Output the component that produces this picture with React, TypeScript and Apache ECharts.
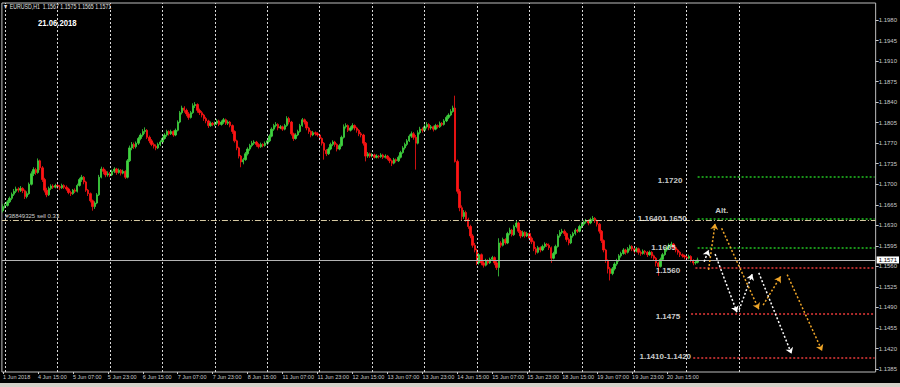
import React, { useEffect, useRef } from "react";
import * as echarts from "echarts";

// Prices are stored in pips above 1.1000; each bar = [open, close, low, high]
const BASE = 1.1;
const PIP = 0.0001;

const jun01 = [[655, 662, 652, 666]];
const jun04 = [
  [662, 664, 659, 668], [664, 670, 662, 673], [670, 676, 668, 679], [676, 683, 673, 686],
  [683, 688, 680, 692], [688, 692, 685, 696], [692, 690, 686, 695], [690, 693, 687, 697],
  [693, 689, 685, 695], [689, 679, 675, 691], [679, 684, 676, 688], [684, 700, 682, 703],
  [700, 718, 698, 722], [718, 725, 714, 729], [725, 720, 716, 728], [720, 740, 718, 744],
  [740, 728, 724, 742], [728, 708, 704, 731], [708, 690, 686, 711], [690, 682, 678, 694],
  [682, 693, 680, 696], [693, 697, 690, 700], [697, 695, 692, 700], [695, 698, 693, 701],
];
const jun05 = [
  [698, 696, 692, 701], [696, 694, 690, 699], [694, 698, 692, 701], [698, 695, 692, 700],
  [695, 692, 689, 698], [692, 686, 683, 694], [686, 684, 680, 689], [684, 690, 682, 692],
  [690, 688, 685, 693], [688, 698, 686, 701], [698, 708, 696, 711], [708, 712, 704, 716],
  [712, 704, 700, 714], [704, 690, 687, 706], [690, 684, 680, 692], [684, 672, 669, 686],
  [672, 662, 655, 674], [662, 668, 658, 671], [668, 682, 666, 685], [682, 712, 680, 716],
  [712, 726, 710, 730], [726, 722, 717, 729], [722, 716, 712, 725], [716, 718, 713, 722],
];
const jun06 = [
  [718, 716, 712, 721], [716, 722, 714, 725], [722, 726, 719, 729], [726, 720, 716, 728],
  [720, 724, 718, 727], [724, 719, 715, 726], [719, 722, 717, 725], [722, 712, 709, 724],
  [712, 740, 710, 743], [740, 762, 738, 766], [762, 768, 758, 772], [768, 764, 760, 771],
  [764, 770, 761, 773], [770, 778, 767, 781], [778, 784, 775, 787], [784, 790, 781, 794],
  [790, 792, 786, 797], [792, 780, 777, 794], [780, 774, 770, 783], [774, 768, 765, 777],
  [768, 765, 761, 771], [765, 762, 758, 768], [762, 768, 760, 771], [768, 772, 765, 775],
];
const jun07 = [
  [772, 778, 770, 781], [778, 784, 776, 787], [784, 790, 781, 793], [790, 786, 783, 792],
  [786, 790, 784, 793], [790, 784, 781, 792], [784, 792, 782, 795], [792, 806, 790, 809],
  [806, 822, 804, 825], [822, 830, 819, 834], [830, 826, 822, 833], [826, 820, 816, 829],
  [820, 814, 810, 823], [814, 822, 812, 825], [822, 834, 820, 838], [834, 836, 830, 840],
  [836, 826, 822, 838], [826, 822, 818, 829], [822, 818, 814, 825], [818, 812, 808, 820],
  [812, 808, 804, 815], [808, 800, 796, 810], [800, 804, 798, 807], [804, 802, 799, 806],
];
const jun08 = [
  [802, 804, 799, 807], [804, 808, 801, 811], [808, 802, 799, 810], [802, 806, 800, 809],
  [806, 810, 803, 813], [810, 804, 801, 812], [804, 806, 801, 809], [806, 800, 797, 808],
  [800, 790, 786, 802], [790, 774, 771, 792], [774, 762, 758, 776], [762, 748, 744, 764],
  [748, 738, 729, 750], [738, 742, 734, 745], [742, 752, 740, 755], [752, 760, 749, 763],
  [760, 766, 757, 769], [766, 770, 763, 774], [770, 772, 767, 775], [772, 768, 764, 774],
  [768, 764, 761, 770], [764, 768, 762, 771], [768, 766, 763, 770], [766, 770, 764, 773],
];
const jun11 = [
  [770, 774, 767, 777], [774, 782, 772, 785], [782, 794, 780, 797], [794, 800, 791, 803],
  [800, 802, 797, 806], [802, 796, 792, 804], [796, 798, 794, 801], [798, 794, 791, 800],
  [794, 800, 792, 803], [800, 812, 798, 816], [812, 806, 802, 815], [806, 786, 783, 808],
  [786, 778, 774, 788], [778, 784, 776, 787], [784, 790, 782, 793], [790, 800, 788, 803],
  [800, 810, 798, 813], [810, 806, 802, 812], [806, 796, 792, 808], [796, 790, 786, 798],
  [790, 784, 780, 792], [784, 788, 782, 791], [788, 786, 783, 790], [786, 784, 781, 789],
];
const jun12 = [
  [784, 778, 775, 786], [778, 770, 766, 780], [770, 758, 742, 772], [758, 752, 748, 760],
  [752, 760, 750, 763], [760, 768, 758, 771], [768, 772, 765, 775], [772, 768, 764, 774],
  [768, 760, 756, 770], [760, 766, 758, 769], [766, 780, 764, 783], [780, 798, 778, 802],
  [798, 800, 795, 804], [800, 792, 789, 802], [792, 796, 790, 799], [796, 800, 793, 804],
  [800, 796, 792, 802], [796, 792, 788, 798], [792, 786, 782, 794], [786, 784, 780, 789],
  [784, 770, 766, 786], [770, 748, 739, 772], [748, 752, 745, 755], [752, 748, 745, 754],
];
const jun13 = [
  [748, 750, 746, 753], [750, 746, 744, 752], [746, 748, 744, 751], [748, 747, 744, 750],
  [747, 750, 745, 753], [750, 746, 743, 752], [746, 748, 744, 751], [748, 744, 741, 750],
  [744, 740, 736, 746], [740, 736, 731, 742], [736, 742, 734, 745], [742, 740, 737, 744],
  [740, 746, 738, 749], [746, 754, 744, 757], [754, 762, 752, 765], [762, 768, 759, 771],
  [768, 774, 765, 777], [774, 782, 772, 785], [782, 786, 779, 790], [786, 780, 776, 789],
  [780, 770, 725, 784], [770, 788, 768, 792], [788, 794, 785, 798], [794, 792, 788, 797],
];
const jun14 = [
  [792, 798, 790, 802], [798, 802, 795, 806], [802, 796, 792, 804], [796, 798, 793, 801],
  [798, 794, 790, 800], [794, 800, 792, 803], [800, 798, 795, 802], [798, 804, 796, 807],
  [804, 802, 799, 806], [802, 808, 800, 811], [808, 814, 806, 817], [814, 818, 811, 821],
  [818, 824, 816, 828], [824, 830, 822, 834], [830, 739, 737, 851], [739, 688, 684, 742],
  [688, 660, 654, 692], [660, 645, 638, 664], [645, 652, 641, 656], [652, 640, 636, 655],
  [640, 628, 624, 643], [628, 612, 608, 631], [612, 596, 592, 615], [596, 588, 584, 600],
];
const jun15 = [
  [588, 566, 562, 590], [566, 580, 563, 583], [580, 566, 562, 582], [566, 562, 558, 569],
  [562, 570, 560, 573], [570, 566, 563, 572], [566, 572, 564, 575], [572, 575, 569, 578],
  [575, 566, 562, 577], [566, 558, 554, 569], [558, 600, 543, 608], [600, 596, 592, 603],
  [596, 606, 594, 609], [606, 600, 597, 608], [600, 616, 598, 619], [616, 622, 613, 626],
  [622, 614, 611, 624], [614, 628, 612, 631], [628, 634, 625, 638], [634, 620, 617, 636],
  [620, 612, 608, 622], [612, 618, 610, 621], [618, 612, 609, 620], [612, 616, 610, 619],
];
const jun18 = [
  [616, 608, 604, 619], [608, 602, 598, 611], [602, 590, 586, 604], [590, 584, 580, 593],
  [584, 592, 582, 595], [592, 588, 584, 594], [588, 594, 586, 597], [594, 598, 591, 601],
  [598, 596, 593, 600], [596, 592, 588, 599], [592, 574, 566, 594], [574, 582, 572, 585],
  [582, 594, 580, 597], [594, 612, 592, 615], [612, 618, 609, 622], [618, 620, 615, 624],
  [620, 616, 612, 623], [616, 606, 602, 618], [606, 600, 596, 609], [600, 612, 598, 615],
  [612, 616, 609, 619], [616, 622, 613, 625], [622, 620, 617, 624], [620, 628, 618, 631],
];
const jun19 = [
  [628, 632, 625, 635], [632, 636, 629, 639], [636, 638, 633, 641], [638, 634, 630, 640],
  [634, 640, 632, 643], [640, 642, 637, 646], [642, 638, 634, 644], [638, 632, 628, 640],
  [632, 620, 616, 634], [620, 604, 600, 622], [604, 588, 584, 606], [588, 570, 566, 590],
  [570, 556, 548, 572], [556, 548, 536, 559], [548, 556, 545, 559], [556, 564, 553, 567],
  [564, 570, 561, 573], [570, 578, 568, 581], [578, 582, 575, 585], [582, 588, 580, 591],
  [588, 584, 580, 590], [584, 590, 582, 593], [590, 594, 587, 597], [594, 590, 586, 596],
];
const jun20 = [
  [590, 586, 582, 592], [586, 590, 584, 593], [590, 584, 580, 592], [584, 582, 578, 587],
  [582, 586, 580, 589], [586, 584, 580, 588], [584, 580, 576, 586], [580, 584, 578, 587],
  [584, 578, 574, 586], [578, 574, 570, 580], [574, 566, 560, 576], [566, 560, 544, 568],
  [560, 572, 558, 575], [572, 580, 570, 583], [580, 588, 578, 591], [588, 592, 585, 595],
  [592, 596, 589, 599], [596, 598, 593, 602], [598, 592, 588, 600], [592, 588, 584, 594],
  [588, 584, 580, 590], [584, 580, 576, 586], [580, 578, 575, 582], [578, 576, 572, 580],
];
const jun21 = [
  [576, 574, 571, 578], [574, 577, 572, 580], [577, 570, 567, 579], [570, 566, 562, 572],
  [566, 567, 563, 570], [567, 571, 565, 575],
];

// [day name, first hour, bars]
const DAYS: [string, number, number[][]][] = [
  ["1 Jun", 23, jun01], ["4 Jun", 0, jun04], ["5 Jun", 0, jun05], ["6 Jun", 0, jun06],
  ["7 Jun", 0, jun07], ["8 Jun", 0, jun08], ["11 Jun", 0, jun11], ["12 Jun", 0, jun12],
  ["13 Jun", 0, jun13], ["14 Jun", 0, jun14], ["15 Jun", 0, jun15], ["18 Jun", 0, jun18],
  ["19 Jun", 0, jun19], ["20 Jun", 0, jun20], ["21 Jun", 0, jun21],
];
// empty future slots (chart shift): [day, first hour, count]
const FUTURE_DAYS: [string, number, number][] = [
  ["21 Jun", 6, 18], ["22 Jun", 0, 24], ["25 Jun", 0, 24], ["26 Jun", 0, 15],
];
const GRID_UNTIL = "22 Jun 00:00";

const TIME_TICKS = [
  "1 Jun 23:00", "4 Jun 15:00", "5 Jun 07:00", "5 Jun 23:00", "6 Jun 15:00", "7 Jun 07:00",
  "7 Jun 23:00", "8 Jun 15:00", "11 Jun 07:00", "11 Jun 23:00", "12 Jun 15:00", "13 Jun 07:00",
  "13 Jun 23:00", "14 Jun 15:00", "15 Jun 07:00", "15 Jun 23:00", "18 Jun 15:00", "19 Jun 07:00",
  "19 Jun 23:00", "20 Jun 15:00",
];
const FIRST_TICK_TEXT = "1 Jun 2018";

const PRICE_TICKS = [
  1.1385, 1.142, 1.1455, 1.149, 1.1525, 1.156, 1.1595, 1.163, 1.1665, 1.17, 1.1735, 1.177,
  1.1805, 1.184, 1.1875, 1.191, 1.1945, 1.198,
];
const Y_MIN = 1.138;
const Y_MAX = 1.2009;

const BID = 1.1571;
const ORDER_PRICE = 1.1638;
const ORDER_TEXT = "#38849325 sell 0.33";

const GREEN_LEVELS = [1.1713, 1.1641, 1.1591];
const GREEN_START = ["21 Jun 05:00", "21 Jun 05:00", "21 Jun 05:00"];
const RED_LEVELS = [1.1557, 1.1479, 1.1405];
const RED_START = ["21 Jun 04:00", "21 Jun 02:00", "21 Jun 03:00"];

// [start category, start price, end category, end price]
const WHITE_ARROWS: [string, number, string, number][] = [
  ["21 Jun 08:00", 1.1568, "21 Jun 10:00", 1.1588],
  ["21 Jun 13:00", 1.1581, "21 Jun 23:00", 1.1482],
  ["22 Jun 00:00", 1.1486, "22 Jun 06:00", 1.1547],
  ["22 Jun 09:00", 1.1549, "25 Jun 00:00", 1.1411],
];
const ORANGE_ARROWS: [string, number, string, number][] = [
  ["21 Jun 10:00", 1.1554, "21 Jun 13:00", 1.1633],
  ["21 Jun 16:00", 1.1625, "22 Jun 09:00", 1.1487],
  ["22 Jun 11:00", 1.1494, "22 Jun 19:00", 1.1543],
  ["22 Jun 22:00", 1.1546, "25 Jun 14:00", 1.1416],
];

// annotation texts: [text, category at text's right edge, price]
const NOTES: [string, string, number][] = [
  ["1.1720", "20 Jun 22:00", 1.1707],
  ["1.16401.1650", "21 Jun 00:00", 1.1641],
  ["1.1605", "20 Jun 19:00", 1.1592],
  ["1.1560", "20 Jun 21:00", 1.1553],
  ["1.1475", "20 Jun 21:00", 1.1474],
  ["1.1410-1.1420", "21 Jun 02:00", 1.1406],
  ["Alt.", "21 Jun 19:00", 1.1656],
];

const FONT = "Liberation Sans";
const UP = "#3fd23f";
const DOWN = "#ff1414";
const GREEN_LINE = "#22c322";
const RED_LINE = "#e83a3a";

function hh(h: number) {
  return String(h).padStart(2, "0") + ":00";
}

function buildOption() {
  const categories: string[] = [];
  const candles: number[][] = [];
  const dayStarts: number[] = [];
  DAYS.forEach(([day, h0, bars]) => {
    bars.forEach((b, j) => {
      const h = h0 + j;
      if (h === 0) dayStarts.push(categories.length);
      categories.push(`${day} ${hh(h)}`);
      candles.push(b.map((v) => +(BASE + v * PIP).toFixed(4)));
    });
  });
  FUTURE_DAYS.forEach(([day, h0, n]) => {
    for (let j = 0; j < n; j++) {
      const h = h0 + j;
      if (h === 0) dayStarts.push(categories.length);
      categories.push(`${day} ${hh(h)}`);
    }
  });
  const idx = (c: string) => categories.indexOf(c);
  const last = categories.length - 1;
  const gridLimit = idx(GRID_UNTIL);
  const gridLines = dayStarts.filter((i) => i <= gridLimit);
  const tickSet = new Set(TIME_TICKS.map(idx));
  const showTick = (i: number) => tickSet.has(i);

  const arrowData = (arr: [string, number, string, number][]) =>
    arr.map(([c1, p1, c2, p2]) => [{ coord: [idx(c1), p1] }, { coord: [idx(c2), p2] }]);

  return {
    animation: false,
    backgroundColor: "#000",
    grid: {
      left: -0.7,
      right: 23,
      top: 3,
      bottom: 15,
      show: true,
      borderColor: "#bdbdbd",
      borderWidth: 1,
      backgroundColor: "#000",
    },
    xAxis: {
      type: "category",
      data: categories,
      boundaryGap: true,
      axisLine: { show: false },
      axisTick: {
        show: true,
        interval: (i: number) => showTick(i),
        alignWithLabel: true,
        length: 2,
        lineStyle: { color: "#c8c8c8" },
      },
      axisLabel: {
        interval: (i: number) => showTick(i),
        formatter: (v: string, i: number) => (i === 0 ? FIRST_TICK_TEXT : v),
        align: "left",
        color: "#c8c8c8",
        fontSize: 5.5,
        fontFamily: FONT,
        margin: 2,
      },
      splitLine: { show: false },
    },
    yAxis: {
      type: "value",
      position: "right",
      min: Y_MIN,
      max: Y_MAX,
      axisLine: { show: false },
      splitLine: { show: false },
      axisTick: {
        show: true,
        customValues: PRICE_TICKS,
        length: 3,
        lineStyle: { color: "#c8c8c8" },
      },
      axisLabel: {
        customValues: PRICE_TICKS,
        formatter: (v: number) => v.toFixed(4),
        color: "#c8c8c8",
        fontSize: 6,
        fontFamily: FONT,
        margin: 3,
      },
    },
    graphic: [
      {
        type: "text",
        x: 3,
        y: 6,
        scaleX: 0.75,
        style: {
          text: "▼ EURUSD,H1  1.1567 1.1575 1.1565 1.1571",
          fill: "#e0e0e0",
          font: `7px "${FONT}"`,
          verticalAlign: "middle",
        },
      },
      {
        type: "text",
        x: 38,
        y: 23,
        scaleX: 0.86,
        style: {
          text: "21.06.2018",
          fill: "#ffffff",
          font: `bold 9px "${FONT}"`,
          verticalAlign: "middle",
        },
      },
      {
        type: "rect",
        shape: { x: 0, y: 383, width: 900, height: 4 },
        style: { fill: "#d4d0c8" },
      },
    ],
    series: [
      {
        type: "line",
        data: [],
        z: 1,
        markLine: {
          silent: true,
          symbol: "none",
          precision: 5,
          label: { show: false },
          lineStyle: { color: "#d8d8d8", type: [2, 2], width: 1 },
          data: gridLines.map((i) => ({ xAxis: i })),
        },
      },
      {
        type: "line",
        data: [],
        z: 2,
        markLine: {
          silent: true,
          symbol: "none",
          precision: 5,
          data: [
            {
              yAxis: ORDER_PRICE,
              lineStyle: { color: "#d6c9a2", type: [6, 2, 1, 2], width: 1 },
              label: { show: false },
            },
            {
              yAxis: BID,
              lineStyle: { color: "#b4b4b4", type: "solid", width: 1 },
              label: {
                show: true,
                position: "end",
                distance: 1,
                formatter: BID.toFixed(4),
                backgroundColor: "#ffffff",
                color: "#000",
                fontSize: 6,
                fontFamily: FONT,
                padding: [1, 2, 0, 2],
              },
            },
          ],
        },
      },
      {
        type: "candlestick",
        data: candles,
        barWidth: 1.9,
        z: 3,
        itemStyle: {
          color: UP,
          color0: DOWN,
          borderColor: UP,
          borderColor0: DOWN,
          borderWidth: 0.8,
        },
      },
      {
        type: "line",
        data: [],
        z: 4,
        markLine: {
          silent: true,
          symbol: "none",
          precision: 5,
          label: { show: false },
          data: [
            ...GREEN_LEVELS.map((p, k) => [
              { coord: [idx(GREEN_START[k]), p], lineStyle: { color: GREEN_LINE, type: [2, 2], width: 1.5 } },
              { coord: [last, p] },
            ]),
            ...RED_LEVELS.map((p, k) => [
              { coord: [idx(RED_START[k]), p], lineStyle: { color: RED_LINE, type: [2, 2], width: 1.5 } },
              { coord: [last, p] },
            ]),
          ],
        },
      },
      {
        type: "line",
        data: [],
        z: 5,
        markLine: {
          silent: true,
          symbol: ["none", "arrow"],
          symbolSize: 6,
          precision: 5,
          label: { show: false },
          lineStyle: { color: "#ffffff", type: [2, 2], width: 1.5 },
          data: arrowData(WHITE_ARROWS),
        },
      },
      {
        type: "line",
        data: [],
        z: 5,
        markLine: {
          silent: true,
          symbol: ["none", "arrow"],
          symbolSize: 6,
          precision: 5,
          label: { show: false },
          lineStyle: { color: "#f0a628", type: [2, 2], width: 1.5 },
          data: arrowData(ORANGE_ARROWS),
        },
      },
      {
        type: "scatter",
        symbolSize: 0,
        z: 6,
        silent: true,
        data: NOTES.map(([t, c, p]) => ({ value: [idx(c), p], name: t })),
        label: {
          show: true,
          position: "left",
          distance: 0,
          formatter: (d: any) => d.name,
          color: "#ffffff",
          fontWeight: "bold",
          fontSize: 8,
          fontFamily: FONT,
        },
      },
      {
        type: "scatter",
        symbolSize: 0,
        z: 6,
        silent: true,
        data: [{ value: [1, ORDER_PRICE + 0.0008], name: ORDER_TEXT }],
        label: {
          show: true,
          position: "right",
          distance: 0,
          formatter: (d: any) => d.name,
          color: "#ffffff",
          fontSize: 6,
          fontFamily: FONT,
        },
      },
    ],
  };
}

export default function App() {
  const ref = useRef<HTMLDivElement>(null);
  useEffect(() => {
    document.body.style.margin = "0";
    document.body.style.background = "#000";
    const chart = echarts.init(ref.current as HTMLDivElement, null, { renderer: "svg" });
    chart.setOption(buildOption() as any);
    return () => chart.dispose();
  }, []);
  return (
    <div
      ref={ref}
      style={{ position: "absolute", left: 0, top: 0, width: 900, height: 387 }}
    />
  );
}
